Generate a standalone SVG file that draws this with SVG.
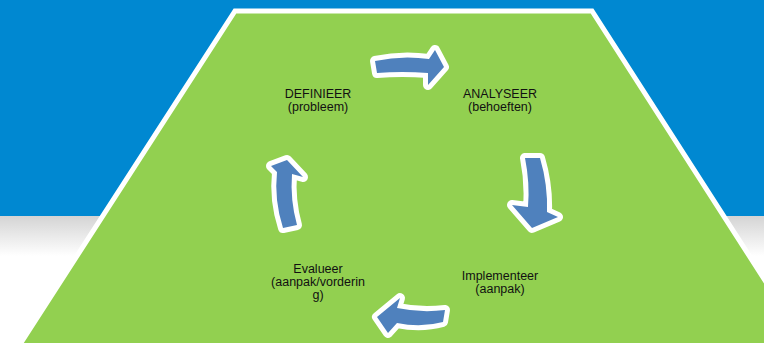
<svg xmlns="http://www.w3.org/2000/svg" width="764" height="343" viewBox="0 0 764 343">
  <defs>
    <linearGradient id="shade" x1="0" y1="0" x2="0" y2="1">
      <stop offset="0" stop-color="#d4d4d4"/>
      <stop offset="1" stop-color="#ffffff"/>
    </linearGradient>
  </defs>
  <style>
    .lbl { font-family: "Liberation Sans", Arial, sans-serif; font-size: 12.5px; fill: #111; text-anchor: middle; }
    .arrow { fill: #4F81BD; stroke: #ffffff; stroke-width: 10; stroke-linejoin: round; paint-order: stroke; }
  </style>
  <rect x="0" y="0" width="764" height="216" fill="#0088D1"/>
  <rect x="0" y="216" width="764" height="40" fill="url(#shade)"/>
  <rect x="0" y="256" width="764" height="87" fill="#ffffff"/>
  <polygon points="235,11 592,11 811,352 15,352" fill="#92D050" stroke="#ffffff" stroke-width="5" stroke-linejoin="miter"/>

  <g id="connectors">
    <path class="arrow" d="M375,61 Q402,55 429,59 L435,50 L444,67 L428,85 L428,73 Q402,71 377,73 Z"/>
    <path class="arrow" d="M525,158 L540,158 Q548,185 547,212 L558,217 L532,228 L512,205 L528,207 Q530,183 525,158 Z"/>
    <path class="arrow" d="M445,310 Q421,313 397,308 L400,298 L377,317 L388,333 L397,323 Q421,328 443,322 Z"/>
    <path class="arrow" d="M283,228 Q274,200 277,172 L271,166 L287,160 L303,177 L292,174 Q290,200 297,225 Z"/>
  </g>

  <g id="node-definieer">
    <text class="lbl" x="318" y="98">DEFINIEER</text>
    <text class="lbl" x="318" y="111">(probleem)</text>
  </g>
  <g id="node-analyseer">
    <text class="lbl" x="500" y="98">ANALYSEER</text>
    <text class="lbl" x="500" y="111">(behoeften)</text>
  </g>
  <g id="node-implementeer">
    <text class="lbl" x="500" y="280">Implementeer</text>
    <text class="lbl" x="500" y="293">(aanpak)</text>
  </g>
  <g id="node-evalueer">
    <text class="lbl" x="318" y="273">Evalueer</text>
    <text class="lbl" x="318" y="286">(aanpak/vorderin</text>
    <text class="lbl" x="318" y="299">g)</text>
  </g>
</svg>
